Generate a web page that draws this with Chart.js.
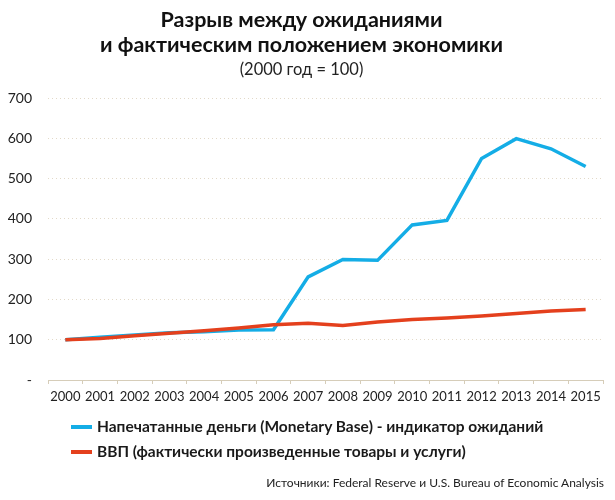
<!DOCTYPE html>
<html><head><meta charset="utf-8">
<script src="https://cdn.jsdelivr.net/npm/chart.js@4"></script>
<style>
html,body{margin:0;padding:0;background:#fff;}
#wrap{position:relative;width:615px;height:500px;font-family:Lato,"Open Sans",sans-serif;}
canvas{position:absolute;left:0;top:0;}
.lg{position:absolute;left:71px;font-size:15.5px;font-weight:700;color:#1a1a1a;white-space:nowrap;}
.lg i{display:inline-block;width:21px;height:3.5px;vertical-align:middle;margin-right:5px;position:relative;top:-1px;}
#src{position:absolute;right:11px;top:475px;font-size:12px;color:#222;white-space:nowrap;}
</style></head>
<body><div id="wrap"><canvas id="c" width="615" height="500"></canvas>
<div class="lg" id="l1" style="top:417px"><i style="background:#14ade6"></i><span></span></div>
<div class="lg" id="l2" style="top:442px"><i style="background:#e4401d"></i><span></span></div>
<div id="src">Источники: Federal Reserve и U.S. Bureau of Economic Analysis</div>
</div>
<script>
const years = ['2000','2001','2002','2003','2004','2005','2006','2007','2008','2009','2010','2011','2012','2013','2014','2015'];
const monetaryBase = [100,106,112,117,120,124,125,256,299,297,385,396,550,599,574,530];
const gdp = [100,103,110,116,122,129,137,141,135,144,150,154,159,165,171,175];
const seriesNames = ['Напечатанные деньги (Monetary Base) - индикатор ожиданий','ВВП (фактически произведенные товары и услуги)'];
const yTicks = [0,100,200,300,400,500,600,700];

document.querySelector('#l1 span').textContent = seriesNames[0];
document.querySelector('#l2 span').textContent = seriesNames[1];

const FONT = 'Lato, "Open Sans", sans-serif';
new Chart(document.getElementById('c'), {
  type: 'line',
  data: {
    labels: years,
    datasets: [
      {label: seriesNames[1], data: gdp, borderColor:'#e4401d', borderWidth:3.5, pointRadius:0, tension:0, order:1},
      {label: seriesNames[0], data: monetaryBase, borderColor:'#14ade6', borderWidth:3.5, pointRadius:0, tension:0, order:2}
    ]
  },
  options: {
    responsive:false, animation:false,
    layout:{padding:{left:0,right:12,top:0,bottom:90}},
    plugins:{
      legend:{display:false}, tooltip:{enabled:false},
      title:{display:true, text:['Разрыв между ожиданиями','и фактическим положением экономики'],
        color:'#111', font:{family:FONT,size:21.5,weight:'bold',lineHeight:'25px'}, padding:{top:7.5,bottom:3.5}},
      subtitle:{display:true, text:'(2000 год = 100)', color:'#222',
        font:{family:FONT,size:16.5,weight:'normal',lineHeight:'18px'}, padding:{top:0,bottom:19}}
    },
    scales:{
      x:{offset:true,
        grid:{display:true,drawOnChartArea:false,drawTicks:true,tickLength:4,offset:true,color:'#d6cdb9'},
        border:{display:true,color:'#d6cdb9',width:1},
        ticks:{color:'#222',font:{family:FONT,size:13},padding:5,maxRotation:0,autoSkip:false},
        afterFit:s=>{s.height=30;}
      },
      y:{min:0,max:700,
        afterBuildTicks:s=>{s.ticks=yTicks.map(v=>({value:v}));},
        grid:{drawTicks:false,color:'#e2d9c8',lineWidth:1},
        border:{display:false,dash:[1,3]},
        ticks:{color:'#222',font:{family:FONT,size:14},padding:16,callback:v=>v===0?'-':v},
        afterFit:s=>{s.width=48;}
      }
    }
  }
});
</script></body></html>
